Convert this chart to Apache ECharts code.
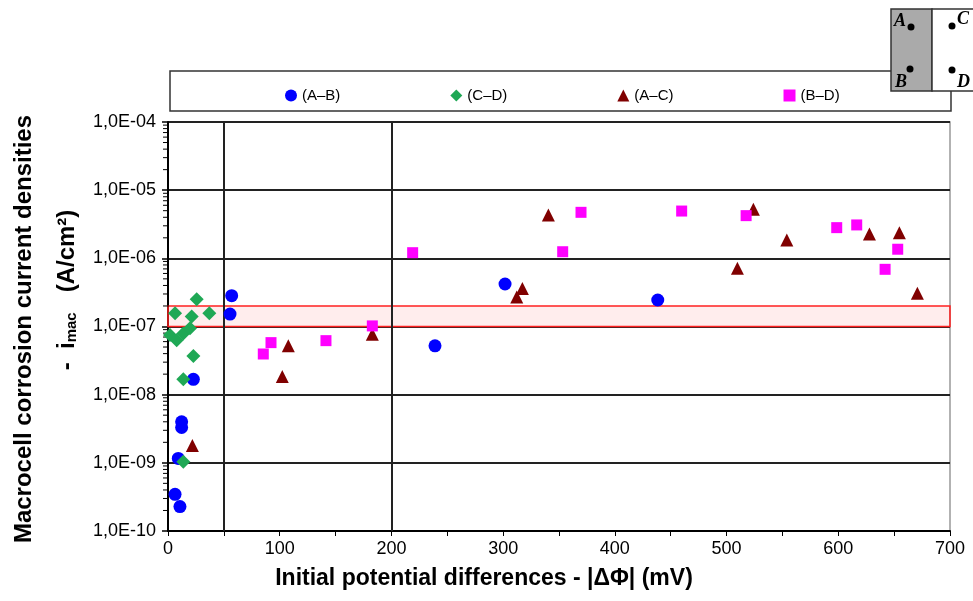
<!DOCTYPE html>
<html>
<head>
<meta charset="utf-8">
<script src="https://cdn.jsdelivr.net/npm/echarts@6/dist/echarts.min.js"></script>
<style>html,body{margin:0;padding:0;background:#fff}#c{width:973px;height:601px}</style>
</head>
<body>
<div id="c"></div>
<script>
// ---- data ----
const seriesNames = ['(A–B)', '(C–D)', '(A–C)', '(B–D)'];
const abX = [57, 55.5, 22.7, 12.2, 12.2, 9.2, 6.3, 10.7, 301.7, 239, 438.4];
const abY = [2.83e-7, 1.52e-7, 1.68e-8, 4.0e-9, 3.3e-9, 1.16e-9, 3.45e-10, 2.28e-10, 4.2e-7, 5.2e-8, 2.45e-7];
const cdX = [25.7, 6.3, 21.2, 37, 1.8, 7.8, 13.7, 19.7, 22.7, 13.7, 13.7];
const cdY = [2.5e-7, 1.56e-7, 1.4e-7, 1.56e-7, 7.5e-8, 6.3e-8, 7.9e-8, 9.4e-8, 3.7e-8, 1.68e-8, 1.04e-9];
const acX = [21.8, 107.7, 102.3, 182.9, 340.5, 317.2, 312.2, 524, 553.9, 509.7, 627.9, 654.7, 670.8];
const acY = [1.79e-9, 5.2e-8, 1.84e-8, 7.7e-8, 4.33e-6, 3.6e-7, 2.7e-7, 5.25e-6, 1.86e-6, 7.15e-7, 2.28e-6, 2.38e-6, 3.07e-7];
const bdX = [92.2, 85.3, 141.4, 182.9, 219, 369.7, 353.3, 459.8, 517.5, 598.6, 616.5, 653.2, 641.9];
const bdY = [5.8e-8, 3.95e-8, 6.2e-8, 1.02e-7, 1.21e-6, 4.73e-6, 1.25e-6, 4.94e-6, 4.23e-6, 2.82e-6, 3.09e-6, 1.36e-6, 6.9e-7];
const bandRange = [1e-7, 2e-7];
const verticalLines = [50, 200];
const xMin = 0, xMax = 700;
const yMin = 1e-10, yMax = 1e-4;
const yDecades = [-10, -9, -8, -7, -6, -5];
const minorMultipliers = [2, 3, 4, 5, 6, 7, 8, 9];
const xTitle = 'Initial potential differences - |ΔΦ| (mV)';
const yTitle1 = 'Macrocell corrosion current densities';

const zip = (xs, ys) => xs.map((x, i) => [x, ys[i]]);
const minorTickVals = [];
yDecades.forEach(e => minorMultipliers.forEach(m => minorTickVals.push([0, m * Math.pow(10, e)])));

const FONT = 'Liberation Sans, Arial, sans-serif';
const chart = echarts.init(document.getElementById('c'), null, {renderer: 'canvas'});
const letterFont = 'italic bold 18px "Liberation Serif", serif';

chart.setOption({
  animation: false,
  backgroundColor: '#fff',
  textStyle: {fontFamily: FONT},
  grid: {left: 168, right: 23, top: 122, bottom: 70, show: true, borderColor: '#999', borderWidth: 1.5, backgroundColor: 'transparent'},
  legend: {
    data: seriesNames,
    left: 280, top: 83,
    itemGap: 110, itemWidth: 12, itemHeight: 12,
    textStyle: {fontSize: 15, color: '#000', fontFamily: FONT}
  },
  graphic: [
    {type: 'rect', shape: {x: 170, y: 71, width: 781, height: 40}, style: {fill: '#fff', stroke: '#333', lineWidth: 1.5}, z: -1},
    {type: 'rect', shape: {x: 891, y: 9, width: 41, height: 82}, style: {fill: '#aaaaaa', stroke: '#333', lineWidth: 1.5}},
    {type: 'rect', shape: {x: 932, y: 9, width: 45, height: 82}, style: {fill: '#fff', stroke: '#333', lineWidth: 1.5}},
    {type: 'circle', shape: {cx: 911, cy: 27, r: 3.5}, style: {fill: '#000'}},
    {type: 'circle', shape: {cx: 910, cy: 69, r: 3.5}, style: {fill: '#000'}},
    {type: 'circle', shape: {cx: 952, cy: 26, r: 3.5}, style: {fill: '#000'}},
    {type: 'circle', shape: {cx: 952, cy: 70, r: 3.5}, style: {fill: '#000'}},
    {type: 'text', x: 894, y: 12, style: {text: 'A', font: letterFont, fill: '#000'}},
    {type: 'text', x: 895, y: 73, style: {text: 'B', font: letterFont, fill: '#000'}},
    {type: 'text', x: 957, y: 10, style: {text: 'C', font: letterFont, fill: '#000'}},
    {type: 'text', x: 957, y: 73, style: {text: 'D', font: letterFont, fill: '#000'}},
    {type: 'text', x: 24, y: 329, rotation: Math.PI / 2,
      style: {text: yTitle1, font: 'bold 24px "Liberation Sans", Arial, sans-serif', fill: '#000', align: 'center', verticalAlign: 'middle'}},
    {type: 'text', x: 64, y: 290, rotation: Math.PI / 2,
      style: {text: '{a|-  i}{s|mac}{a|   (A/cm²)}', align: 'center', verticalAlign: 'middle',
        rich: {
          a: {font: 'bold 24px "Liberation Sans", Arial, sans-serif', fill: '#000', lineHeight: 30, verticalAlign: 'bottom'},
          s: {font: 'bold 15px "Liberation Sans", Arial, sans-serif', fill: '#000', lineHeight: 30, verticalAlign: 'bottom'}
        }}},
    {type: 'text', x: 484, y: 579,
      style: {text: xTitle, font: 'bold 23px "Liberation Sans", Arial, sans-serif', fill: '#000', align: 'center', verticalAlign: 'middle'}}
  ],
  xAxis: {
    type: 'value', min: xMin, max: xMax, interval: 50,
    axisLine: {show: true, onZero: false, lineStyle: {color: '#000', width: 2}},
    axisTick: {show: true, length: 5, lineStyle: {color: '#000', width: 1}},
    axisLabel: {fontSize: 18, color: '#000', margin: 9, fontFamily: FONT,
      formatter: v => (v % 100 === 0 ? String(v) : '')},
    splitLine: {show: false}
  },
  yAxis: {
    type: 'log', logBase: 10, min: yMin, max: yMax, splitNumber: 6,
    axisLine: {show: true, lineStyle: {color: '#000', width: 2}},
    axisTick: {show: true, length: 6, lineStyle: {color: '#000', width: 1.5}},
    axisLabel: {fontSize: 18, color: '#000', margin: 12, fontFamily: FONT,
      formatter: v => {
        const e = Math.round(Math.log10(v));
        const a = Math.abs(e);
        return '1,0E' + (e < 0 ? '-' : '+') + (a < 10 ? '0' + a : a);
      }},
    splitLine: {show: true, showMaxLine: false, lineStyle: {color: '#222', width: 2}}
  },
  series: [
    {name: seriesNames[0], type: 'scatter', symbol: 'circle', symbolSize: 13, itemStyle: {color: '#0000ff', opacity: 1}, data: zip(abX, abY), z: 5,
      markArea: {silent: true, itemStyle: {color: 'rgba(255,0,0,0.07)', borderColor: '#ff2020', borderWidth: 1.5},
        data: [[{xAxis: xMin, yAxis: bandRange[0]}, {xAxis: xMax, yAxis: bandRange[1]}]]},
      markLine: {silent: true, symbol: 'none', label: {show: false}, lineStyle: {color: '#222', width: 2, type: 'solid'},
        data: verticalLines.map(v => ({xAxis: v}))}},
    {name: seriesNames[1], type: 'scatter', symbol: 'diamond', symbolSize: 14, itemStyle: {color: '#1fa855', opacity: 1}, data: zip(cdX, cdY), z: 5},
    {name: seriesNames[2], type: 'scatter', symbol: 'triangle', symbolSize: 13, itemStyle: {color: '#800000', opacity: 1}, data: zip(acX, acY), z: 5},
    {name: seriesNames[3], type: 'scatter', symbol: 'rect', symbolSize: 11, itemStyle: {color: '#ff00ff', opacity: 1}, data: zip(bdX, bdY), z: 5},
    {type: 'custom', silent: true, clip: false, z: 3, legendHoverLink: false,
      data: minorTickVals,
      renderItem: (params, api) => {
        const p = api.coord([api.value(0), api.value(1)]);
        return {type: 'line', shape: {x1: p[0] - 5, y1: p[1], x2: p[0] + 1, y2: p[1]}, style: {stroke: '#000', lineWidth: 1}};
      }}
  ]
});
</script>
</body>
</html>
